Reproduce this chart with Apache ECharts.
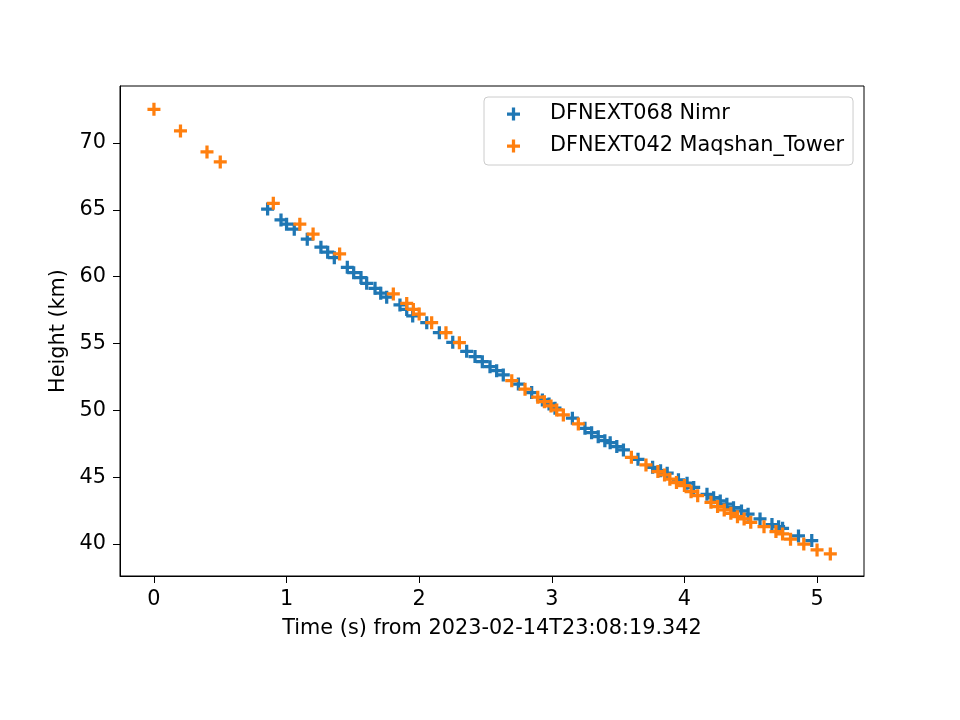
<!DOCTYPE html>
<html>
<head>
<meta charset="utf-8">
<script src="https://cdn.jsdelivr.net/npm/echarts@6/dist/echarts.min.js"></script>
<style>
  html, body { margin: 0; padding: 0; background: #fff; }
  #chart { width: 960px; height: 720px; }
</style>
</head>
<body>
<div id="chart"></div>
<script>
// DFNEXT068 Nimr
var nimrTime = [0.857, 0.958, 1.00, 1.058, 1.156, 1.259, 1.31, 1.36, 1.458, 1.506, 1.561,
  1.604, 1.667, 1.71, 1.755, 1.855, 1.906, 1.951, 2.057, 2.152, 2.253, 2.358, 2.421,
  2.476, 2.534, 2.584, 2.634, 2.748, 2.848, 2.929, 2.979, 3.024, 3.155, 3.25, 3.30,
  3.35, 3.40, 3.44, 3.49, 3.54, 3.65, 3.76, 3.82, 3.87, 3.955, 4.02, 4.07, 4.17, 4.22,
  4.27, 4.32, 4.37, 4.43, 4.48, 4.57, 4.66, 4.71, 4.74, 4.86, 4.96];
var nimrHeight = [65.06, 64.24, 63.92, 63.55, 62.80, 62.20, 61.83, 61.42, 60.70, 60.30, 59.93,
  59.50, 59.13, 58.76, 58.46, 57.88, 57.55, 57.06, 56.56, 55.81, 55.09, 54.42, 54.02,
  53.64, 53.27, 52.97, 52.65, 51.97, 51.33, 50.78, 50.48, 50.16, 49.41, 48.66, 48.33,
  48.03, 47.73, 47.58, 47.29, 47.04, 46.34, 45.74, 45.49, 45.30, 44.80, 44.55, 44.23, 43.72, 43.47,
  43.22, 42.98, 42.72, 42.48, 42.23, 41.88, 41.46, 41.30, 41.18, 40.61, 40.26];

// DFNEXT042 Maqshan_Tower
var maqTime = [0.0, 0.2, 0.4, 0.5, 0.9, 1.1, 1.2, 1.4, 1.805, 1.906, 1.956, 2.0, 2.094,
  2.202, 2.303, 2.698, 2.798, 2.894, 2.944, 2.994, 3.037, 3.087, 3.20, 3.60, 3.71,
  3.80, 3.85, 3.89, 3.94, 4.00, 4.05, 4.10, 4.20, 4.25, 4.30, 4.35, 4.40, 4.45, 4.50,
  4.60, 4.69, 4.74, 4.80, 4.90, 5.00, 5.10];
var maqHeight = [72.52, 70.90, 69.33, 68.58, 65.49, 63.92, 63.19, 61.70, 58.71, 58.00, 57.55, 57.20, 56.56,
  55.81, 55.06, 52.22, 51.58, 50.98, 50.65, 50.33, 50.03, 49.66, 48.98, 46.49, 45.92,
  45.42, 45.17, 44.85, 44.60, 44.37, 43.92, 43.62, 43.12, 42.80, 42.55, 42.30, 42.05, 41.88, 41.63,
  41.30, 40.93, 40.76, 40.36, 40.00, 39.56, 39.26];

var xTicks = [0, 1, 2, 3, 4, 5];
var yTicks = [40, 45, 50, 55, 60, 65, 70];

function pairs(xs, ys) {
  return xs.map(function (x, i) { return [x, ys[i]]; });
}

// matplotlib style "+" marker
var plus = "path://M4.5,0h3v4.5h4.5v3h-4.5v4.5h-3v-4.5h-4.5v-3h4.5z";
var font = "DejaVu Sans";
var fs = 20.8;

var chart = echarts.init(document.getElementById("chart"));

var option = {
  animation: false,
  backgroundColor: "#fff",
  textStyle: { fontFamily: font, color: "#000" },
  grid: {
    left: 120, right: 96, top: 86, bottom: 144,
    show: true, borderColor: "#000", borderWidth: 1
  },
  legend: {
    left: 484, top: 97,
    orient: "vertical",
    padding: [5, 9, 7, 23],
    itemGap: 8,
    itemWidth: 13, itemHeight: 13,
    borderColor: "#cccccc", borderWidth: 1, borderRadius: 4,
    backgroundColor: "rgba(255,255,255,0.8)",
    textStyle: { fontFamily: font, fontSize: fs, color: "#000", lineHeight: 24, padding: [0, 0, 0, 25] },
    data: [
      { name: "DFNEXT068 Nimr", icon: plus },
      { name: "DFNEXT042 Maqshan_Tower", icon: plus }
    ]
  },
  xAxis: {
    type: "value",
    min: -0.256, max: 5.354,
    name: "Time (s) from 2023-02-14T23:08:19.342",
    nameLocation: "middle", nameGap: 42,
    nameTextStyle: { fontFamily: font, fontSize: fs, color: "#000" },
    axisLine: { show: true, onZero: false, lineStyle: { color: "#000", width: 1 } },
    axisTick: { show: true, length: 7, customValues: xTicks, lineStyle: { color: "#000" } },
    axisLabel: { customValues: xTicks, margin: 13, fontFamily: font, fontSize: fs, color: "#000" },
    splitLine: { show: false }
  },
  yAxis: {
    type: "value",
    min: 37.61, max: 74.26,
    name: "Height (km)",
    nameLocation: "middle", nameGap: 51,
    nameTextStyle: { fontFamily: font, fontSize: fs, color: "#000" },
    axisLine: { show: true, onZero: false, lineStyle: { color: "#000", width: 1 } },
    axisTick: { show: true, length: 7, customValues: yTicks, lineStyle: { color: "#000" } },
    axisLabel: { customValues: yTicks, margin: 14, fontFamily: font, fontSize: fs, color: "#000" },
    splitLine: { show: false }
  },
  series: [
    {
      name: "DFNEXT068 Nimr",
      type: "scatter",
      symbol: plus,
      symbolSize: 13,
      itemStyle: { color: "#1f77b4", opacity: 1 },
      data: pairs(nimrTime, nimrHeight)
    },
    {
      name: "DFNEXT042 Maqshan_Tower",
      type: "scatter",
      symbol: plus,
      symbolSize: 13,
      itemStyle: { color: "#ff7f0e", opacity: 1 },
      data: pairs(maqTime, maqHeight)
    }
  ]
};

chart.setOption(option);
</script>
</body>
</html>
